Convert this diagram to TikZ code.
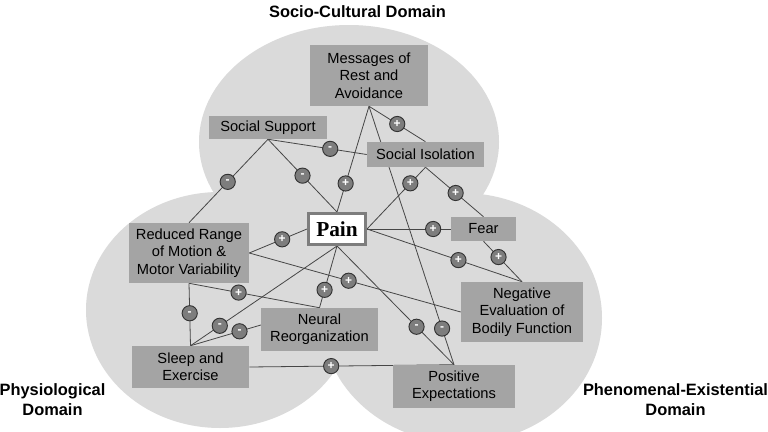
\documentclass[tikz,border=0pt]{standalone}
\usepackage{fontspec}
\setmainfont{Liberation Sans}
\newfontfamily\painfont{Liberation Serif}
\definecolor{ellfill}{RGB}{218,218,218}
\definecolor{boxfill}{RGB}{164,164,164}
\definecolor{signfill}{RGB}{125,125,125}
\definecolor{signline}{RGB}{50,50,50}
\definecolor{linkcol}{RGB}{70,70,70}
\pgfdeclarelayer{bg}
\pgfdeclarelayer{lines}
\pgfsetlayers{bg,lines,main}
\tikzset{
 box/.style={fill=boxfill, inner sep=0pt, align=center, font=\fontsize{11}{13}\selectfont},
 painbox/.style={fill=white, draw=signfill, line width=2pt, inner sep=0pt, font=\painfont\bfseries\fontsize{16}{18}\selectfont},
 link/.style={draw=linkcol, line width=0.6pt},
 sign/.style={circle, fill=signfill, draw=signline, line width=0.7pt, minimum size=11.4pt, inner sep=0pt, text=white, font=\bfseries\fontsize{9}{9}\selectfont},
 domlabel/.style={font=\bfseries\fontsize{12.3}{15}\selectfont, align=center}
}
\begin{document}
\begin{tikzpicture}[x=0.75pt,y=-0.75pt]
\useasboundingbox (0,0) rectangle (768,432);
\begin{pgfonlayer}{bg}
\clip (0,0) rectangle (768,432);
\fill[white] (0,0) rectangle (768,432);
\fill[ellfill] (349,142) ellipse [x radius=112.5pt, y radius=87.75pt];
\fill[ellfill] (220,310) ellipse [x radius=100.5pt, y radius=88.5pt];
\fill[ellfill] (462,318) ellipse [x radius=105pt, y radius=93.75pt];
\end{pgfonlayer}

% boxes
\node[box, minimum width=88.5pt, minimum height=45.75pt] (msg) at (369,75.5) {Messages of\\Rest and\\Avoidance};
\node[box, minimum width=88.5pt, minimum height=17.25pt] (sup) at (268,127.5) {Social Support};
\node[box, minimum width=87.75pt, minimum height=18.75pt] (iso) at (425.5,154.5) {Social Isolation};
\node[painbox, minimum width=43pt, minimum height=23.5pt] (pain) at (337,229) {Pain};
\node[box, minimum width=90pt, minimum height=45pt] (rrm) at (189,253) {Reduced Range\\of Motion \&\\Motor Variability};
\node[box, minimum width=87.75pt, minimum height=32.25pt] (neu) at (319.5,329.5) {Neural\\Reorganization};
\node[box, minimum width=87.75pt, minimum height=31.5pt] (slp) at (190.5,367) {Sleep and\\Exercise};
\node[box, minimum width=48.75pt, minimum height=18pt] (fear) at (483.5,229) {Fear};
\node[box, minimum width=91.5pt, minimum height=45pt] (neg) at (522,312) {Negative\\Evaluation of\\Bodily Function};
\node[box, minimum width=91.5pt, minimum height=32.25pt] (pos) at (454,386.5) {Positive\\Expectations};

% domain labels
\node[domlabel, anchor=base] (dsc) at (357.5,17) {Socio-Cultural Domain};
\node[domlabel] (dph) at (52.5,400) {Physiological\\Domain};
\node[domlabel] (dpe) at (675.5,400) {Phenomenal-Existential\\Domain};

% connectors
\begin{pgfonlayer}{lines}
\draw[link] (msg.south) -- coordinate[pos=.5] (s1) (iso.north);
\draw[link] (msg.south) -- coordinate[pos=.73] (s2) (pain.north);
\draw[link] (msg.south) -- coordinate[pos=.86] (s3) (pos.north);
\draw[link] (sup.south) -- coordinate[pos=.63] (s4) (iso.west);
\draw[link] (sup.south) -- coordinate[pos=.51] (s5) (rrm.north);
\draw[link] (sup.south) -- coordinate[pos=.5] (s6) (pain.north);
\draw[link] (iso.south) -- coordinate[pos=.26] (s7) (pain.east);
\draw[link] (iso.south) -- coordinate[pos=.52] (s8) (fear.north);
\draw[link] (pain.east) -- coordinate[pos=.79] (s9) (fear.west);
\draw[link] (pain.east) -- coordinate[pos=.59] (s10) (neg.north);
\draw[link] (fear.south) -- coordinate[pos=.39] (s11) (neg.north);
\draw[link] (rrm.east) -- coordinate[pos=.57] (s12) (pain.west);
\draw[link] (rrm.east) -- coordinate[pos=.47] (s13) (neg.west);
\draw[link] (rrm.south) -- coordinate[pos=.38] (s14) (neu.north);
\draw[link] (rrm.south) -- coordinate[pos=.48] (s15) (slp.north);
\draw[link] (slp.north) -- coordinate[pos=.2] (s16) (pain.south);
\draw[link] (slp.north) -- coordinate[pos=.38] (s17) (neu.north);
\draw[link] (pain.south) -- coordinate[pos=.71] (s18) (neu.north);
\draw[link] (pain.south) -- coordinate[pos=.68] (s19) (pos.north);
\draw[link] (slp.east) -- coordinate[pos=.4] (s20) (pos.north);
\end{pgfonlayer}

% signs
\node[sign] (g1) at (s1) {+};
\node[sign] (g2) at (s2) {+};
\node[sign] (g3) at (s3) {-};
\node[sign] (g4) at (s4) {-};
\node[sign] (g5) at (s5) {-};
\node[sign] (g6) at (s6) {-};
\node[sign] (g7) at (s7) {+};
\node[sign] (g8) at (s8) {+};
\node[sign] (g9) at (s9) {+};
\node[sign] (g10) at (s10) {+};
\node[sign] (g11) at (s11) {+};
\node[sign] (g12) at (s12) {+};
\node[sign] (g13) at (s13) {+};
\node[sign] (g14) at (s14) {+};
\node[sign] (g15) at (s15) {-};
\node[sign] (g16) at (s16) {-};
\node[sign] (g17) at (s17) {-};
\node[sign] (g18) at (s18) {+};
\node[sign] (g19) at (s19) {-};
\node[sign] (g20) at (s20) {+};
\end{tikzpicture}
\end{document}
